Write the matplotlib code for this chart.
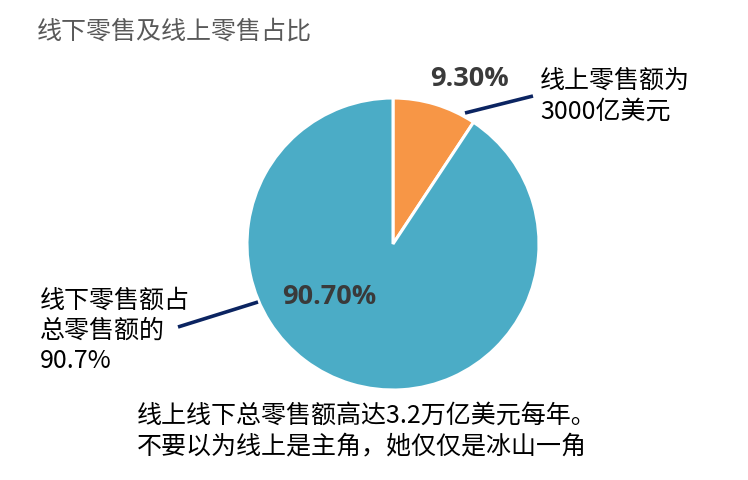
import matplotlib
matplotlib.use("Agg")
import matplotlib.pyplot as plt

plt.rcParams['font.family'] = ['Noto Sans CJK SC', 'DejaVu Sans']

# Data
channels = ["线上零售", "线下零售"]
shares = [9.3, 90.7]
colors = ["#F79646", "#4BACC6"]

title = "线下零售及线上零售占比"
online_note = "线上零售额为\n3000亿美元"
offline_note = "线下零售额占\n总零售额的\n90.7%"
footer = "线上线下总零售额高达3.2万亿美元每年。\n不要以为线上是主角，她仅仅是冰山一角"

W, H = 748, 480
fig = plt.figure(figsize=(W / 100, H / 100), dpi=100)
ax = fig.add_axes([0, 0, 1, 1])
ax.set_xlim(0, W)
ax.set_ylim(0, H)
ax.set_aspect("equal")
ax.axis("off")

ax.pie(shares, colors=colors, startangle=90, counterclock=False,
       center=(393, 236), radius=146,
       wedgeprops=dict(edgecolor="white", linewidth=2.2))
ax.set_xlim(0, W)
ax.set_ylim(0, H)

ax.text(37, 448, title, fontsize=18, color="#595959", va="center", ha="left")

navy = "#0B2461"
pct_style = dict(fontsize=19.5, fontweight="bold", color="#3A3A3A",
                 va="center", ha="left", family=["Open Sans", "DejaVu Sans"])
ax.text(430, 401, f"{shares[0]:.2f}%", **pct_style)
ax.text(282, 183, f"{shares[1]:.2f}%", **pct_style)

ax.plot([465, 533], [367, 384], color=navy, lw=2.6, solid_capstyle="butt")
ax.plot([178, 258], [153, 178], color=navy, lw=2.6, solid_capstyle="butt")

ax.text(540, 384, online_note, fontsize=18, color="black", va="center",
        ha="left", linespacing=1.24)
ax.text(40, 149, offline_note, fontsize=18, color="black", va="center",
        ha="left", linespacing=1.2)
ax.text(137, 49, footer, fontsize=18, color="black", va="center",
        ha="left", linespacing=1.2)

fig.savefig("out.png", dpi=100)
